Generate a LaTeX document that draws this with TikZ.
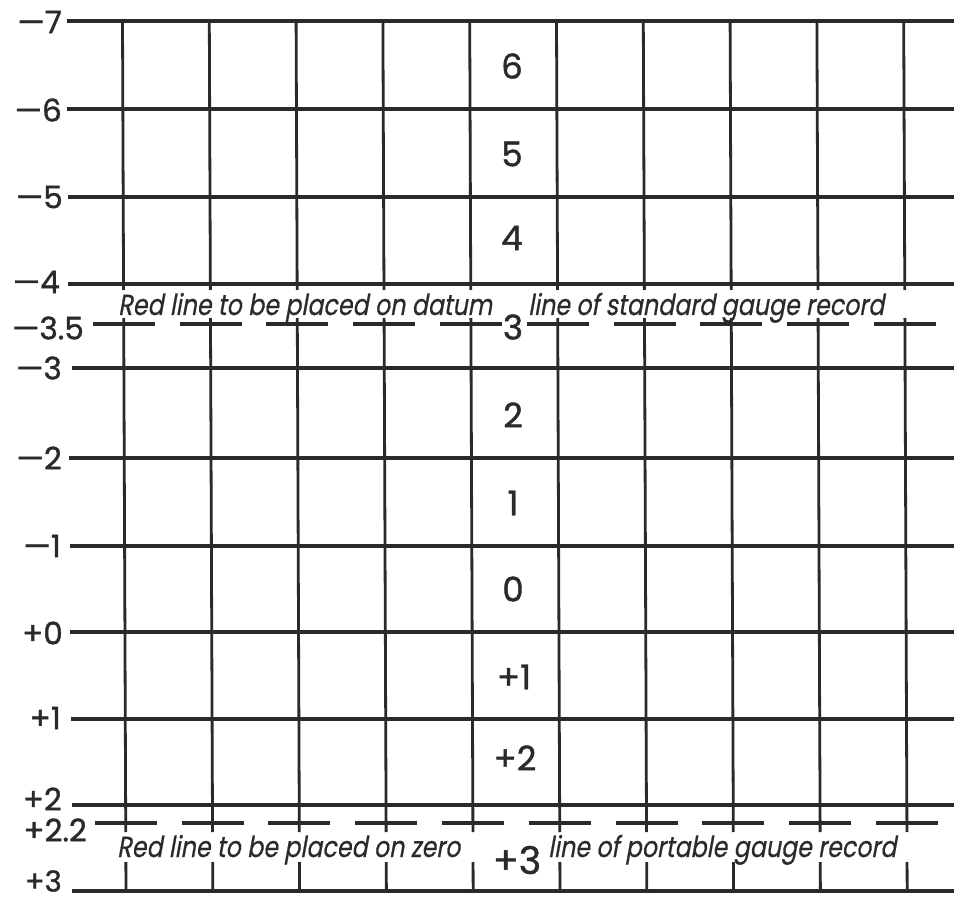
\documentclass[tikz,border=0pt]{standalone}
\usepackage{fontspec}
\setmainfont{Poppins}
\newfontfamily\labfont[FakeBold=1.2]{Poppins}
\newfontfamily\itfont[FakeSlant=0.18,FakeStretch=0.82,FakeBold=0.6]{Poppins}
\definecolor{ink}{HTML}{2A2A2A}
\begin{document}
\begin{tikzpicture}[x=1pt,y=-1pt,
  hline/.style={draw=ink,line width=3.2pt},
  vline/.style={draw=ink,line width=2.8pt},
  dline/.style={draw=ink,line width=3.2pt},
  sidelab/.style={anchor=east,inner sep=0pt,text=ink,font=\labfont\fontsize{31}{31}\selectfont},
  cellab/.style={anchor=center,inner sep=0pt,text=ink,font=\labfont\fontsize{34}{34}\selectfont},
  note/.style={anchor=base west,inner sep=0pt,text=ink,font=\itfont\fontsize{29}{29}\selectfont}]
\useasboundingbox (0,0) rectangle (954,904);
% horizontal solid lines
\foreach \y/\xs in {21/67,109/67,197/68,284/68,368/72,458/69,546/70,632/70,719/71,805/72,891/72}
  \draw[hline] (\xs,\y) -- (954,\y);
% vertical lines and dashes
\foreach \i in {0,...,9}{
  \pgfmathsetmacro\xo{122.5+86.8*\i}
  \draw[vline] ({\xo},21) -- ({\xo+269*0.004},290);
  \draw[vline] ({\xo+297*0.004},318) -- ({\xo+811*0.004},832);
  \draw[vline] ({\xo+841*0.004},862) -- ({\xo+870*0.004},891);
  \draw[dline] ({\xo+303*0.004-31},324) -- ({\xo+303*0.004+31},324);
  \draw[dline] ({\xo+802*0.004-31},823) -- ({\xo+802*0.004+31},823);
}
% side labels
\node[sidelab] (lm7) at (62,22) {—7};
\node[sidelab] (lm6) at (62,110) {—6};
\node[sidelab] (lm5) at (63,197) {—5};
\node[sidelab] (lm4) at (60,282) {—4};
\node[sidelab] (lm35) at (84,328) {—3.5};
\node[sidelab] (lm3) at (62,368) {—3};
\node[sidelab] (lm2) at (62,458) {—2};
\node[sidelab] (lm1) at (61,546) {—1};
\node[sidelab] (lp0) at (63,633) {+0};
\node[sidelab] (lp1) at (61,718) {+1};
\node[sidelab] (lp2) at (62,799) {+2};
\node[sidelab] (lp22) at (87,830) {+2.2};
\node[sidelab,font=\labfont\fontsize{29}{29}\selectfont] (lp3) at (62,881) {+3};
% cell labels
\node[cellab] (c6) at (512,66) {6};
\node[cellab] (c5) at (512,154) {5};
\node[cellab] (c4) at (512,238) {4};
\node[cellab] (c3) at (513,327) {3};
\node[cellab] (c2) at (513,415) {2};
\node[cellab] (c1) at (513,503) {1};
\node[cellab] (c0) at (513,589) {0};
\node[cellab] (cp1) at (514,677) {+1};
\node[cellab] (cp2) at (515,758) {+2};
\node[cellab,font=\labfont\fontsize{38}{38}\selectfont] (cp3) at (517,860) {+3};
% notes
\node[note] (n1) at (118,315) {Red line to be placed on datum};
\node[note] (n2) at (528,315) {line of standard gauge record};
\node[note] (n3) at (117,857) {Red line to be placed on zero};
\node[note] (n4) at (548,857) {line of portable gauge record};
\end{tikzpicture}
\end{document}
